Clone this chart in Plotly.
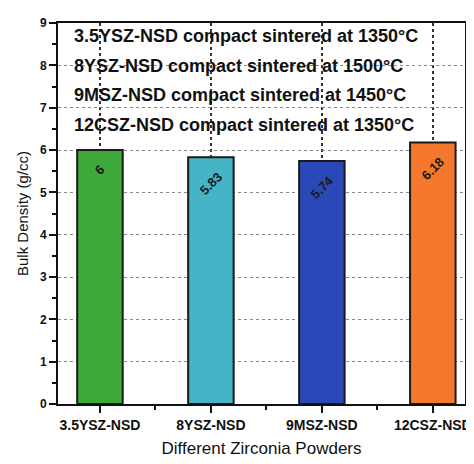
import plotly.graph_objects as go

categories = ["3.5YSZ-NSD", "8YSZ-NSD", "9MSZ-NSD", "12CSZ-NSD"]
density = [6.0, 5.83, 5.74, 6.18]
value_labels = ["6", "5.83", "5.74", "6.18"]
bar_colors = ["#3fa83a", "#45b4c6", "#2a48b8", "#f5792c"]
legend_lines = [
    "3.5YSZ-NSD compact sintered at 1350°C",
    "8YSZ-NSD compact sintered at 1500°C",
    "9MSZ-NSD compact sintered at 1450°C",
    "12CSZ-NSD compact sintered at 1350°C",
]
y_ticks = list(range(0, 10))

xpos = list(range(len(categories)))
font_family = "Liberation Sans, Arial, sans-serif"

fig = go.Figure()
fig.add_trace(go.Bar(
    x=xpos, y=density, width=0.41,
    marker=dict(color=bar_colors, line=dict(color="#1a1a1a", width=2)),
    showlegend=False, hoverinfo="x+y",
))

for xi, yi, lab in zip(xpos, density, value_labels):
    fig.add_annotation(
        x=xi, y=yi, xref="x", yref="y", showarrow=False,
        yanchor="top", xanchor="center", yshift=-9,
        text=lab, textangle=-45,
        font=dict(family=font_family, size=13, color="#1a1a1a", weight="bold"),
    )

for i, line in enumerate(legend_lines):
    fig.add_annotation(
        x=0.035, y=0.966 - i * 0.078, xref="paper", yref="paper",
        xanchor="left", yanchor="middle", showarrow=False,
        text=line,
        font=dict(family=font_family, size=18, color="#111", weight="bold"),
    )

fig.update_layout(
    width=474, height=464,
    margin=dict(l=50, r=17, t=8, b=68),
    paper_bgcolor="white", plot_bgcolor="white",
    xaxis=dict(
        range=[-0.378, 3.29],
        tickmode="array", tickvals=xpos, ticktext=categories,
        tickfont=dict(family=font_family, size=14, color="#111", weight="bold"),
        ticks="outside", ticklen=7, tickwidth=2, tickcolor="#111",
        minor=dict(tickmode="linear", tick0=0.5, dtick=1, ticks="outside",
                   ticklen=4, tickwidth=2, tickcolor="#111", showgrid=False),
        showline=True, linecolor="#111", linewidth=2, mirror=True,
        showgrid=True, gridcolor="#333", griddash="dot", gridwidth=2,
        zeroline=False,
        title=dict(text="Different Zirconia Powders", standoff=10,
                   font=dict(family=font_family, size=17, color="#111")),
    ),
    yaxis=dict(
        range=[0, 9], tickmode="array", tickvals=y_ticks,
        tickfont=dict(family=font_family, size=12, color="#111", weight="bold"),
        ticks="outside", ticklen=7, tickwidth=2, tickcolor="#111",
        minor=dict(dtick=0.5, ticks="outside", ticklen=4, tickwidth=2,
                   tickcolor="#111", showgrid=False),
        showline=True, linecolor="#111", linewidth=2, mirror=True,
        showgrid=True, gridcolor="#888", griddash="dot", gridwidth=1,
        zeroline=False,
        title=dict(text="Bulk Density (g/cc)", standoff=8,
                   font=dict(family=font_family, size=15, color="#111")),
    ),
)

fig.write_html("out.html")
